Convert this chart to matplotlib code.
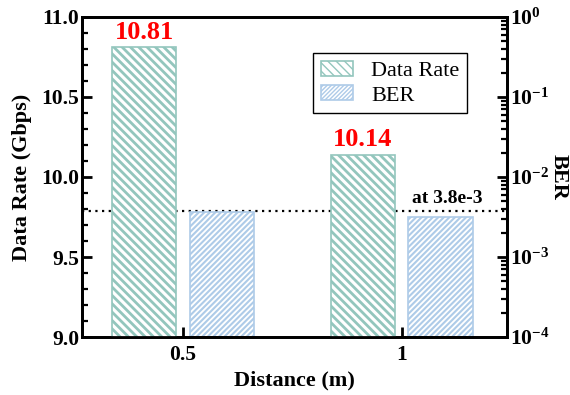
import matplotlib
matplotlib.use("Agg")
import matplotlib.pyplot as plt
import numpy as np
from matplotlib.patches import Patch
from matplotlib.ticker import MultipleLocator, LogLocator, FixedLocator, NullFormatter

plt.rcParams['font.family'] = ['Liberation Serif', 'DejaVu Serif']
plt.rcParams['font.weight'] = 'bold'
plt.rcParams['mathtext.fontset'] = 'custom'
plt.rcParams['mathtext.rm'] = 'Liberation Serif:bold'
plt.rcParams['mathtext.bf'] = 'Liberation Serif:bold'
plt.rcParams['mathtext.default'] = 'bf'

# Data
distances = [0.5, 1.0]
tick_labels = ['0.5', '1']
data_rate = [10.81, 10.14]
ber = [3.7e-3, 3.2e-3]
ber_threshold = 3.8e-3
threshold_label = 'at 3.8e-3'

dr_color = '#93c6bd'
ber_color = '#aecbe8'

fig = plt.figure(figsize=(5.7, 3.95), dpi=100)
ax1 = fig.add_axes([0.1439, 0.1468, 0.7456, 0.8102])
ax2 = ax1.twinx()
ax1.set_zorder(ax2.get_zorder() + 1)
ax1.patch.set_visible(False)

width = 0.148
off = 0.089
x = np.array(distances)

dr_hatch = '\\\\\\\\'
ber_hatch = '//////'

bars_dr = ax1.bar(x - off, data_rate, width, bottom=0, facecolor='white',
                  edgecolor=dr_color, hatch=dr_hatch, linewidth=1.2)
bars_ber = ax2.bar(x + off, ber, width, bottom=1e-6, facecolor='white',
                   edgecolor=ber_color, hatch=ber_hatch, linewidth=1.2)
for b in bars_dr:
    if hasattr(b, 'set_hatch_linewidth'):
        b.set_hatch_linewidth(2.0)
for b in bars_ber:
    if hasattr(b, 'set_hatch_linewidth'):
        b.set_hatch_linewidth(1.5)

ax2.axhline(ber_threshold, color='black', linestyle=(0, (1, 2)), linewidth=1.6, zorder=0.5)
ax2.text(x[1] + off + width / 2 + 0.02, ber_threshold * 1.12, threshold_label,
         ha='right', va='bottom', fontsize=14, fontweight='bold')

for xi, v in zip(x - off, data_rate):
    ax1.text(xi, v + 0.02, f'{v:.2f}', ha='center', va='bottom', color='red',
             fontsize=19, fontweight='bold')

ax1.set_xlim(0.2694, 1.24)
ax1.set_ylim(9.0, 11.0)
ax2.set_yscale('log')
ax2.set_ylim(1e-4, 1)

ax1.set_xticks(distances)
ax1.set_xticklabels(tick_labels)
ax1.yaxis.set_major_locator(MultipleLocator(0.5))
ax1.yaxis.set_minor_locator(MultipleLocator(0.1))
ax1.yaxis.set_major_formatter(matplotlib.ticker.FormatStrFormatter('%.1f'))

ax2.yaxis.set_major_locator(FixedLocator([1e-4, 1e-3, 1e-2, 1e-1, 1]))
ax2.set_yticklabels([r'$\mathbf{10^{-4}}$', r'$\mathbf{10^{-3}}$', r'$\mathbf{10^{-2}}$',
                     r'$\mathbf{10^{-1}}$', r'$\mathbf{10^{0}}$'])
ax2.yaxis.set_minor_locator(LogLocator(base=10, subs=np.arange(2, 10) * 1.0, numticks=20))
ax2.yaxis.set_minor_formatter(NullFormatter())

for ax in (ax1, ax2):
    for s in ax.spines.values():
        s.set_linewidth(2)

ax1.tick_params(axis='y', which='major', direction='in', length=7, width=2,
                labelsize=15.5, pad=2)
ax1.tick_params(axis='y', which='minor', direction='in', length=4, width=1.6)
ax1.tick_params(axis='x', which='major', direction='in', length=7, width=2,
                labelsize=15.5, pad=6)
ax2.tick_params(axis='y', which='major', direction='in', length=7, width=2,
                labelsize=15.5, pad=2)
ax2.tick_params(axis='y', which='minor', direction='in', length=4, width=1.6)

ax1.set_xlabel('Distance (m)', fontsize=16, fontweight='bold', labelpad=4)
ax1.set_ylabel('Data Rate (Gbps)', fontsize=16, fontweight='bold', labelpad=7)
ax2.set_ylabel('BER', fontsize=16, fontweight='bold', rotation=270, labelpad=14)

handles = [Patch(facecolor='white', edgecolor=dr_color, hatch='\\\\\\\\', linewidth=1.2),
           Patch(facecolor='white', edgecolor=ber_color, hatch='////////', linewidth=1.2)]
leg = ax1.legend(handles, ['Data Rate', 'BER'], loc='upper right',
                 bbox_to_anchor=(0.906, 0.8875), borderaxespad=0, frameon=True, fancybox=False,
                 edgecolor='black', framealpha=1, borderpad=0.35,
                 handlelength=1.45, handleheight=0.65, handletextpad=0.8,
                 labelspacing=0.2, prop={'family': 'Liberation Serif', 'weight': 'normal', 'size': 16})
leg.get_frame().set_linewidth(1.0)

fig.savefig('out.png', dpi=100)
